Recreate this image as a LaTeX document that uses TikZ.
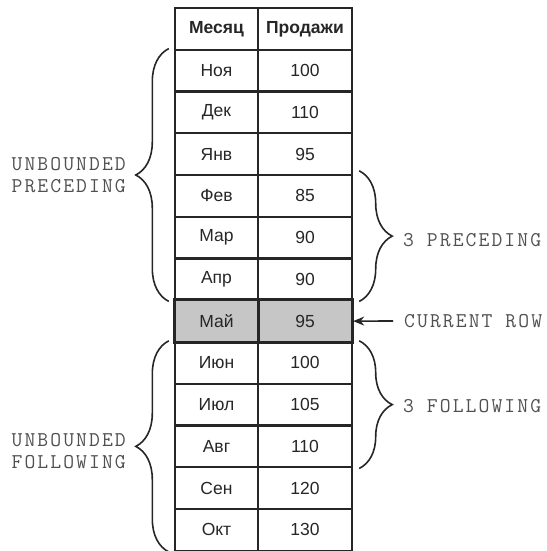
\documentclass[tikz,border=0pt]{standalone}
\usepackage{fontspec}
\setmainfont{Liberation Sans}
\setmonofont{Latin Modern Mono}[LetterSpace=10]
\usetikzlibrary{decorations.pathreplacing,arrows.meta,calc}
\definecolor{ink}{HTML}{262626}
\definecolor{lab}{HTML}{505050}
\definecolor{cur}{HTML}{C6C6C6}
\tikzset{
  cell/.style={draw=ink, line width=2.4pt, inner sep=0pt, minimum height=41.75pt,
    text=ink, font=\fontsize{17.5}{20}\selectfont},
  mcell/.style={cell, minimum width=83pt},
  scell/.style={cell, minimum width=94pt},
  hdr/.style={font=\fontsize{17.5}{20}\selectfont\bfseries},
  brc/.style={draw=ink, line width=1.6pt, decorate,
    decoration={brace, amplitude=33pt}},
  lbl/.style={text=lab, inner sep=0pt, font=\fontsize{21}{22}\selectfont\ttfamily}
}
\begin{document}
\begin{tikzpicture}[x=1pt,y=-1pt]
\useasboundingbox (0,0) rectangle (546,551);
% header
\node[mcell,hdr] (m0) at (216.5,28.875) {Месяц};
\node[scell,hdr] (s0) at (305,28.875) {Продажи};
% rows
\foreach \i/\mo/\sa in {1/Ноя/100,2/Дек/110,3/Янв/95,4/Фев/85,5/Мар/90,6/Апр/90,
   8/Июн/100,9/Июл/105,10/Авг/110,11/Сен/120,12/Окт/130}{
  \node[mcell] (m\i) at (216.5,{28.875+41.75*\i}) {\mo};
  \node[scell] (s\i) at (305,{28.875+41.75*\i}) {\sa};
}
\node[mcell,fill=cur] (m7) at (216.5,{28.875+41.75*7}) {Май};
\node[scell,fill=cur] (s7) at (305,{28.875+41.75*7}) {95};
% redraw borders of current row on top
\draw[ink,line width=2.4pt] (m7.north west) rectangle (s7.south east);
\draw[ink,line width=2.4pt] (m7.north east) -- (m7.south east);
% braces
\draw[brc] ([xshift=-5pt]m6.south west) -- ([xshift=-5pt]m1.north west);
\draw[brc] ([xshift=-5pt]m12.south west) -- ([xshift=-5pt]m8.north west);
\draw[brc] ([xshift=6pt,yshift=3pt]s4.north east) -- ([xshift=6pt]s6.south east);
\draw[brc] ([xshift=6pt]s8.north east) -- ([xshift=6pt]s10.south east);
% labels
\node[lbl, anchor=east, align=right] (up) at (126,175) {UNBOUNDED\\PRECEDING};
\node[lbl, anchor=east, align=right] (uf) at (126,451) {UNBOUNDED\\FOLLOWING};
\node[lbl, anchor=west] (tp) at (403,240) {3 PRECEDING};
\node[lbl, anchor=west] (tf) at (403,406) {3 FOLLOWING};
\node[lbl, anchor=west] (cr) at (404,321) {CURRENT ROW};
\draw[ink, line width=1.6pt, -{Stealth[length=11pt,width=9pt]}]
  ([xshift=-11pt]cr.west) -- (s7.east);
\end{tikzpicture}
\end{document}
